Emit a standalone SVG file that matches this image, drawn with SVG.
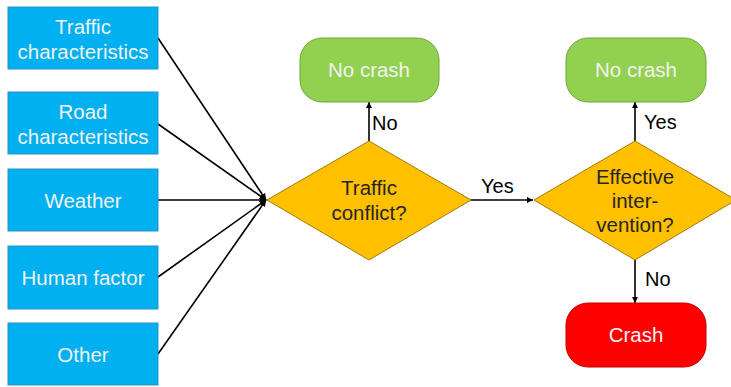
<svg xmlns="http://www.w3.org/2000/svg" width="731" height="387" viewBox="0 0 731 387">
<style>
.box{fill:#00B0F0;stroke:#2F8FC8;stroke-width:1}
.dia{fill:#FFC000;stroke:#A07A10;stroke-width:1}
.ok{fill:#92D050;stroke:#6FA53A;stroke-width:1}
.bad{fill:#FF0000;stroke:#C00000;stroke-width:1}
.wt{font-family:"Liberation Sans",Arial,sans-serif;font-size:20.5px;fill:#F2F2F2;text-anchor:middle}
.dt{font-family:"Liberation Sans",Arial,sans-serif;font-size:20.5px;fill:#262626;text-anchor:middle}
.lb{font-family:"Liberation Sans",Arial,sans-serif;font-size:20px;fill:#000}
.ln{stroke:#000;stroke-width:1.6;fill:none;marker-end:url(#ah)}
</style>
<defs>
<marker id="ah" viewBox="0 0 10 10" refX="10" refY="5" markerWidth="4" markerHeight="4" orient="auto" markerUnits="strokeWidth">
<path d="M0,0 L10,5 L0,10 Z" fill="#000"/>
</marker>
</defs>
<rect width="731" height="387" fill="#fff"/>
<g id="connectors">
<line class="ln" x1="158" y1="38" x2="266" y2="200"/>
<line class="ln" x1="158" y1="124" x2="266" y2="200"/>
<line class="ln" x1="158" y1="200" x2="266" y2="200"/>
<line class="ln" x1="158" y1="277" x2="266" y2="200"/>
<line class="ln" x1="158" y1="354" x2="266" y2="200"/>
<line class="ln" x1="369" y1="141" x2="369" y2="102"/>
<line class="ln" x1="471" y1="200" x2="533" y2="200"/>
<line class="ln" x1="635" y1="141" x2="635" y2="102"/>
<line class="ln" x1="635" y1="260" x2="635" y2="303"/>
<text class="lb" x="372" y="130">No</text>
<text class="lb" x="481" y="193">Yes</text>
<text class="lb" x="644" y="129">Yes</text>
<text class="lb" x="645" y="286">No</text>
</g>
<g id="traffic-char">
<rect class="box" x="8" y="7" width="150" height="62"/>
<text class="wt" x="83" y="34">Traffic</text>
<text class="wt" x="83" y="59">characteristics</text>
</g>
<g id="road-char">
<rect class="box" x="8" y="92" width="150" height="62"/>
<text class="wt" x="83" y="119">Road</text>
<text class="wt" x="83" y="144">characteristics</text>
</g>
<g id="weather">
<rect class="box" x="8" y="169" width="150" height="62"/>
<text class="wt" x="83" y="208">Weather</text>
</g>
<g id="human">
<rect class="box" x="8" y="246" width="150" height="63"/>
<text class="wt" x="83" y="285">Human factor</text>
</g>
<g id="other">
<rect class="box" x="8" y="323" width="150" height="62"/>
<text class="wt" x="83" y="362">Other</text>
</g>
<g id="conflict">
<polygon class="dia" points="267,200 369,141 471,200 369,260"/>
<text class="dt" x="369" y="195">Traffic</text>
<text class="dt" x="369" y="220">conflict?</text>
</g>
<g id="nocrash1">
<rect class="ok" x="300" y="38" width="139" height="64" rx="22"/>
<text class="wt" x="369" y="77">No crash</text>
</g>
<g id="intervention">
<polygon class="dia" points="534,200 635,141 736,200 635,260"/>
<text class="dt" x="635" y="184">Effective</text>
<text class="dt" x="635" y="208">inter-</text>
<text class="dt" x="635" y="232">vention?</text>
</g>
<g id="nocrash2">
<rect class="ok" x="566" y="38" width="140" height="64" rx="22"/>
<text class="wt" x="636" y="77">No crash</text>
</g>
<g id="crash">
<rect class="bad" x="566" y="303" width="140" height="64" rx="22"/>
<text class="wt" x="636" y="342">Crash</text>
</g>
</svg>
